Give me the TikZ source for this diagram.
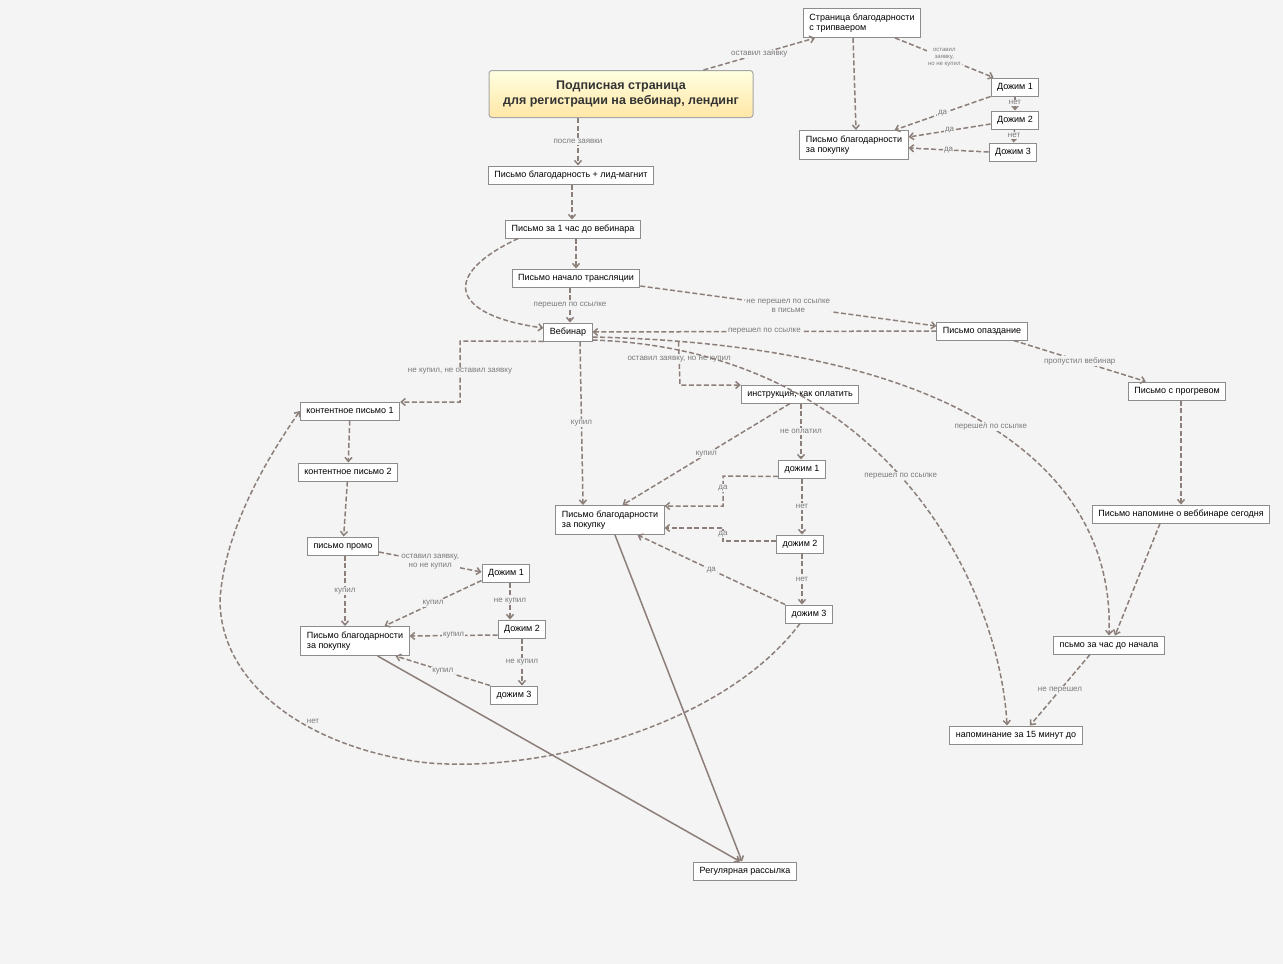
\documentclass[tikz,border=0pt]{standalone}
\usepackage{fontspec}
\setmainfont{Liberation Sans}
\usetikzlibrary{arrows.meta,calc}
\definecolor{bg}{HTML}{F4F4F4}
\definecolor{ln}{HTML}{8C7F7A}
\definecolor{lbl}{HTML}{7A7A7A}
\begin{document}
\begin{tikzpicture}[x=1pt,y=-1pt,
 box/.style={draw=black!45,fill=white,line width=1pt,font=\fontsize{9}{10.5}\selectfont,inner xsep=6pt,minimum height=18pt,text height=7pt,text depth=2pt},
 box2/.style={box,align=left,minimum height=29pt,text height=,text depth=},
 e/.style={draw=ln,dash pattern=on 5pt off 2.5pt,line width=1.5pt,-{Straight Barb[length=4pt,width=7pt]}},
 s/.style={draw=ln,line width=1.5pt,-{Straight Barb[length=4pt,width=7pt]}},
 l/.style={font=\fontsize{8}{9}\selectfont,text=lbl,fill=bg,inner sep=1pt,align=center},
 ls/.style={l,font=\fontsize{6}{7}\selectfont}]
\fill[bg] (0,0) rectangle (1283,964);
\useasboundingbox (0,0) rectangle (1283,964);
% nodes
\node[draw=black!35,rounded corners=3pt,top color=yellow!12,bottom color=yellow!45!orange!35,line width=1pt,minimum width=264pt,minimum height=47pt,align=center,font=\fontsize{12.5}{15}\bfseries\selectfont,text=black!80] (main) at (621,94) {Подписная страница\\для регистрации на вебинар, лендинг};
\node[box2] (trip) at (862,23) {Страница благодарности\\с трипваером};
\node[box] (d1t) at (1015,87) {Дожим 1};
\node[box] (d2t) at (1015,120) {Дожим 2};
\node[box] (d3t) at (1013,152) {Дожим 3};
\node[box2] (thxt) at (854,145) {Письмо благодарности\\за покупку};
\node[box] (gift) at (571,175) {Письмо благодарность + лид-магнит};
\node[box] (h1) at (573,229) {Письмо за 1 час до вебинара};
\node[box] (start) at (576,278) {Письмо начало трансляции};
\node[box] (web) at (568,332) {Вебинар};
\node[box] (late) at (982,331) {Письмо опаздание};
\node[box] (warm) at (1177,391) {Письмо с прогревом};
\node[box] (c1) at (350,411) {контентное письмо 1};
\node[box] (c2) at (348,472) {контентное письмо 2};
\node[box] (promo) at (343,546) {письмо промо};
\node[box] (d1p) at (506,573) {Дожим 1};
\node[box] (d2p) at (522,629) {Дожим 2};
\node[box] (d3p) at (514,695) {дожим 3};
\node[box2] (thxp) at (355,641) {Письмо благодарности\\за покупку};
\node[box] (instr) at (800,394) {инструкция, как оплатить};
\node[box] (d1w) at (802,469) {дожим 1};
\node[box] (d2w) at (800,544) {дожим 2};
\node[box] (d3w) at (809,614) {дожим 3};
\node[box2] (thxw) at (610,520) {Письмо благодарности\\за покупку};
\node[box] (rem) at (1181,514) {Письмо напомине о веббинаре сегодня};
\node[box] (h1b) at (1109,645) {псьмо за час до начала};
\node[box] (m15) at (1016,735) {напоминание за 15 минут до};
\node[box] (reg) at (745,871) {Регулярная рассылка};
% top-right
\draw[e] (main.north east) ++(-50,0) -- node[l,pos=0.5]{оставил заявку} ($(trip.south west)+(12,0)$);
\draw[e] ($(trip.south)+(-9,0)$) -- ($(thxt.north)+(2,0)$);
\draw[e] ($(trip.south east)+(-26,0)$) -- node[ls]{оставил\\заявку,\\но не купил} ($(d1t.north west)+(3,0)$);
\draw[e] (d1t) -- node[l,pos=0.45]{нет} (d2t);
\draw[e] (d2t) -- node[l,pos=0.45]{нет} (d3t);
\draw[e] (d1t.south west) -- node[l]{да} ($(thxt.north east)+(-14,0)$);
\draw[e] ($(d2t.west)+(0,4)$) -- node[l]{да} ($(thxt.east)+(0,-8)$);
\draw[e] (d3t.west) -- node[l]{да} ($(thxt.east)+(0,3)$);
% main chain
\draw[e] ($(main.south)+(-43,0)$) -- node[l]{после заявки} ($(gift.north)+(7,0)$);
\draw[e] ($(gift.south)+(1,0)$) -- ($(h1.north)+(-1,0)$);
\draw[e] ($(h1.south)+(3,0)$) -- ($(start.north)+(0,0)$);
\draw[e] ($(start.south)+(-6,0)$) -- node[l]{перешел по ссылке} ($(web.north)+(2,0)$);
\draw[e] ($(h1.south west)+(13,0)$) .. controls (440,275) and (450,315) .. ($(web.west)+(0,-4)$);
\draw[e] (start.east) ++(0,8) -- node[l]{не перешел по ссылке\\в письме} ($(late.west)+(0,-5)$);
\draw[e] (late.west) -- node[l]{перешел по ссылке} (web.east);
\draw[e] ($(late.south east)+(-14,0)$) -- node[l]{пропустил вебинар} ($(warm.north west)+(18,0)$);
\draw[e] (web.south west) -- (460,341) -- node[l]{не купил, не оставил заявку} (460,402) -- ($(c1.east)+(0,-9)$);
\draw[e] ($(web.south east)+(86,0)$) -- node[l,pos=0.4]{оставил заявку, но не купил} (680,385) -- ($(instr.west)+(0,-9)$);
\draw[e] ($(web.south)+(12,0)$) -- node[l]{купил} ($(thxw.north)+(-27,0)$);
\draw[e] ($(web.east)+(0,5)$) .. controls (960,345) and (1115,470) .. ($(h1b.north)+(0,0)$) node[l,pos=0.5]{перешел по ссылке};
\draw[e] ($(web.east)+(0,8)$) .. controls (890,350) and (1000,590) .. ($(m15.north)+(-9,0)$) node[l,pos=0.48]{перешел по ссылке};
\draw[e] ($(warm.south)+(4,0)$) -- ($(rem.north)+(0,0)$);
\draw[e] ($(rem.south)+(-21,0)$) -- ($(h1b.north)+(6,0)$);
\draw[e] ($(h1b.south)+(-19,0)$) -- node[l]{не перешел} ($(m15.north)+(14,0)$);
% webinar branch
\draw[e] ($(instr.south)+(1,0)$) -- node[l]{не оплатил} ($(d1w.north)+(-1,0)$);
\draw[e] ($(instr.south)+(-10,0)$) -- node[l]{купил} ($(thxw.north east)+(-42,0)$);
\draw[e] ($(d1w.south)+(0,0)$) -- node[l]{нет} ($(d2w.north)+(2,0)$);
\draw[e] ($(d2w.south)+(2,0)$) -- node[l]{нет} ($(d3w.north)+(-7,0)$);
\draw[e] ($(d1w.south west)+(0,-2)$) -- (723,476) -- node[l,pos=0.4]{да} (723,506) -- ($(thxw.east)+(0,-14)$);
\draw[e] ($(d2w.west)+(0,-3)$) -- (723,541) -- node[l]{да} (723,528) -- ($(thxw.east)+(0,8)$);
\draw[e] (d3w.north west) -- node[l]{да} ($(thxw.south east)+(-27,0)$);
\draw[e] ($(d3w.south)+(-9,0)$) .. controls (720,730) and (530,775) .. (420,762) .. controls (300,745) and (220,680) .. (220,600) .. controls (225,520) and (280,440) .. (c1.west);
\node[l] (no) at (313,721) {нет};
% content branch
\draw[e] (c1) -- (c2);
\draw[e] (c2) -- (promo);
\draw[e] ($(promo.south)+(2,0)$) -- node[l]{купил} ($(thxp.north)+(-10,0)$);
\draw[e] (promo.east) ++(0,6) -- node[l]{оставил заявку,\\но не купил} ($(d1p.west)+(0,-1)$);
\draw[e] ($(d1p.south)+(4,0)$) -- node[l]{не купил} ($(d2p.north)+(-12,0)$);
\draw[e] ($(d2p.south)+(0,0)$) -- node[l]{не купил} ($(d3p.north)+(8,0)$);
\draw[e] ($(d1p.south west)+(0,-2)$) -- node[l]{купил} ($(thxp.north east)+(-25,0)$);
\draw[e] ($(d2p.west)+(0,6)$) -- node[l]{купил} ($(thxp.east)+(0,-5)$);
\draw[e] (d3p.north west) -- node[l]{купил} ($(thxp.south east)+(-14,0)$);
% solid
\draw[s] ($(thxp.south east)+(-32,0)$) -- ($(reg.north)+(-5,0)$);
\draw[s] ($(thxw.south)+(5,0)$) -- ($(reg.north)+(-3,0)$);
\end{tikzpicture}
\end{document}
